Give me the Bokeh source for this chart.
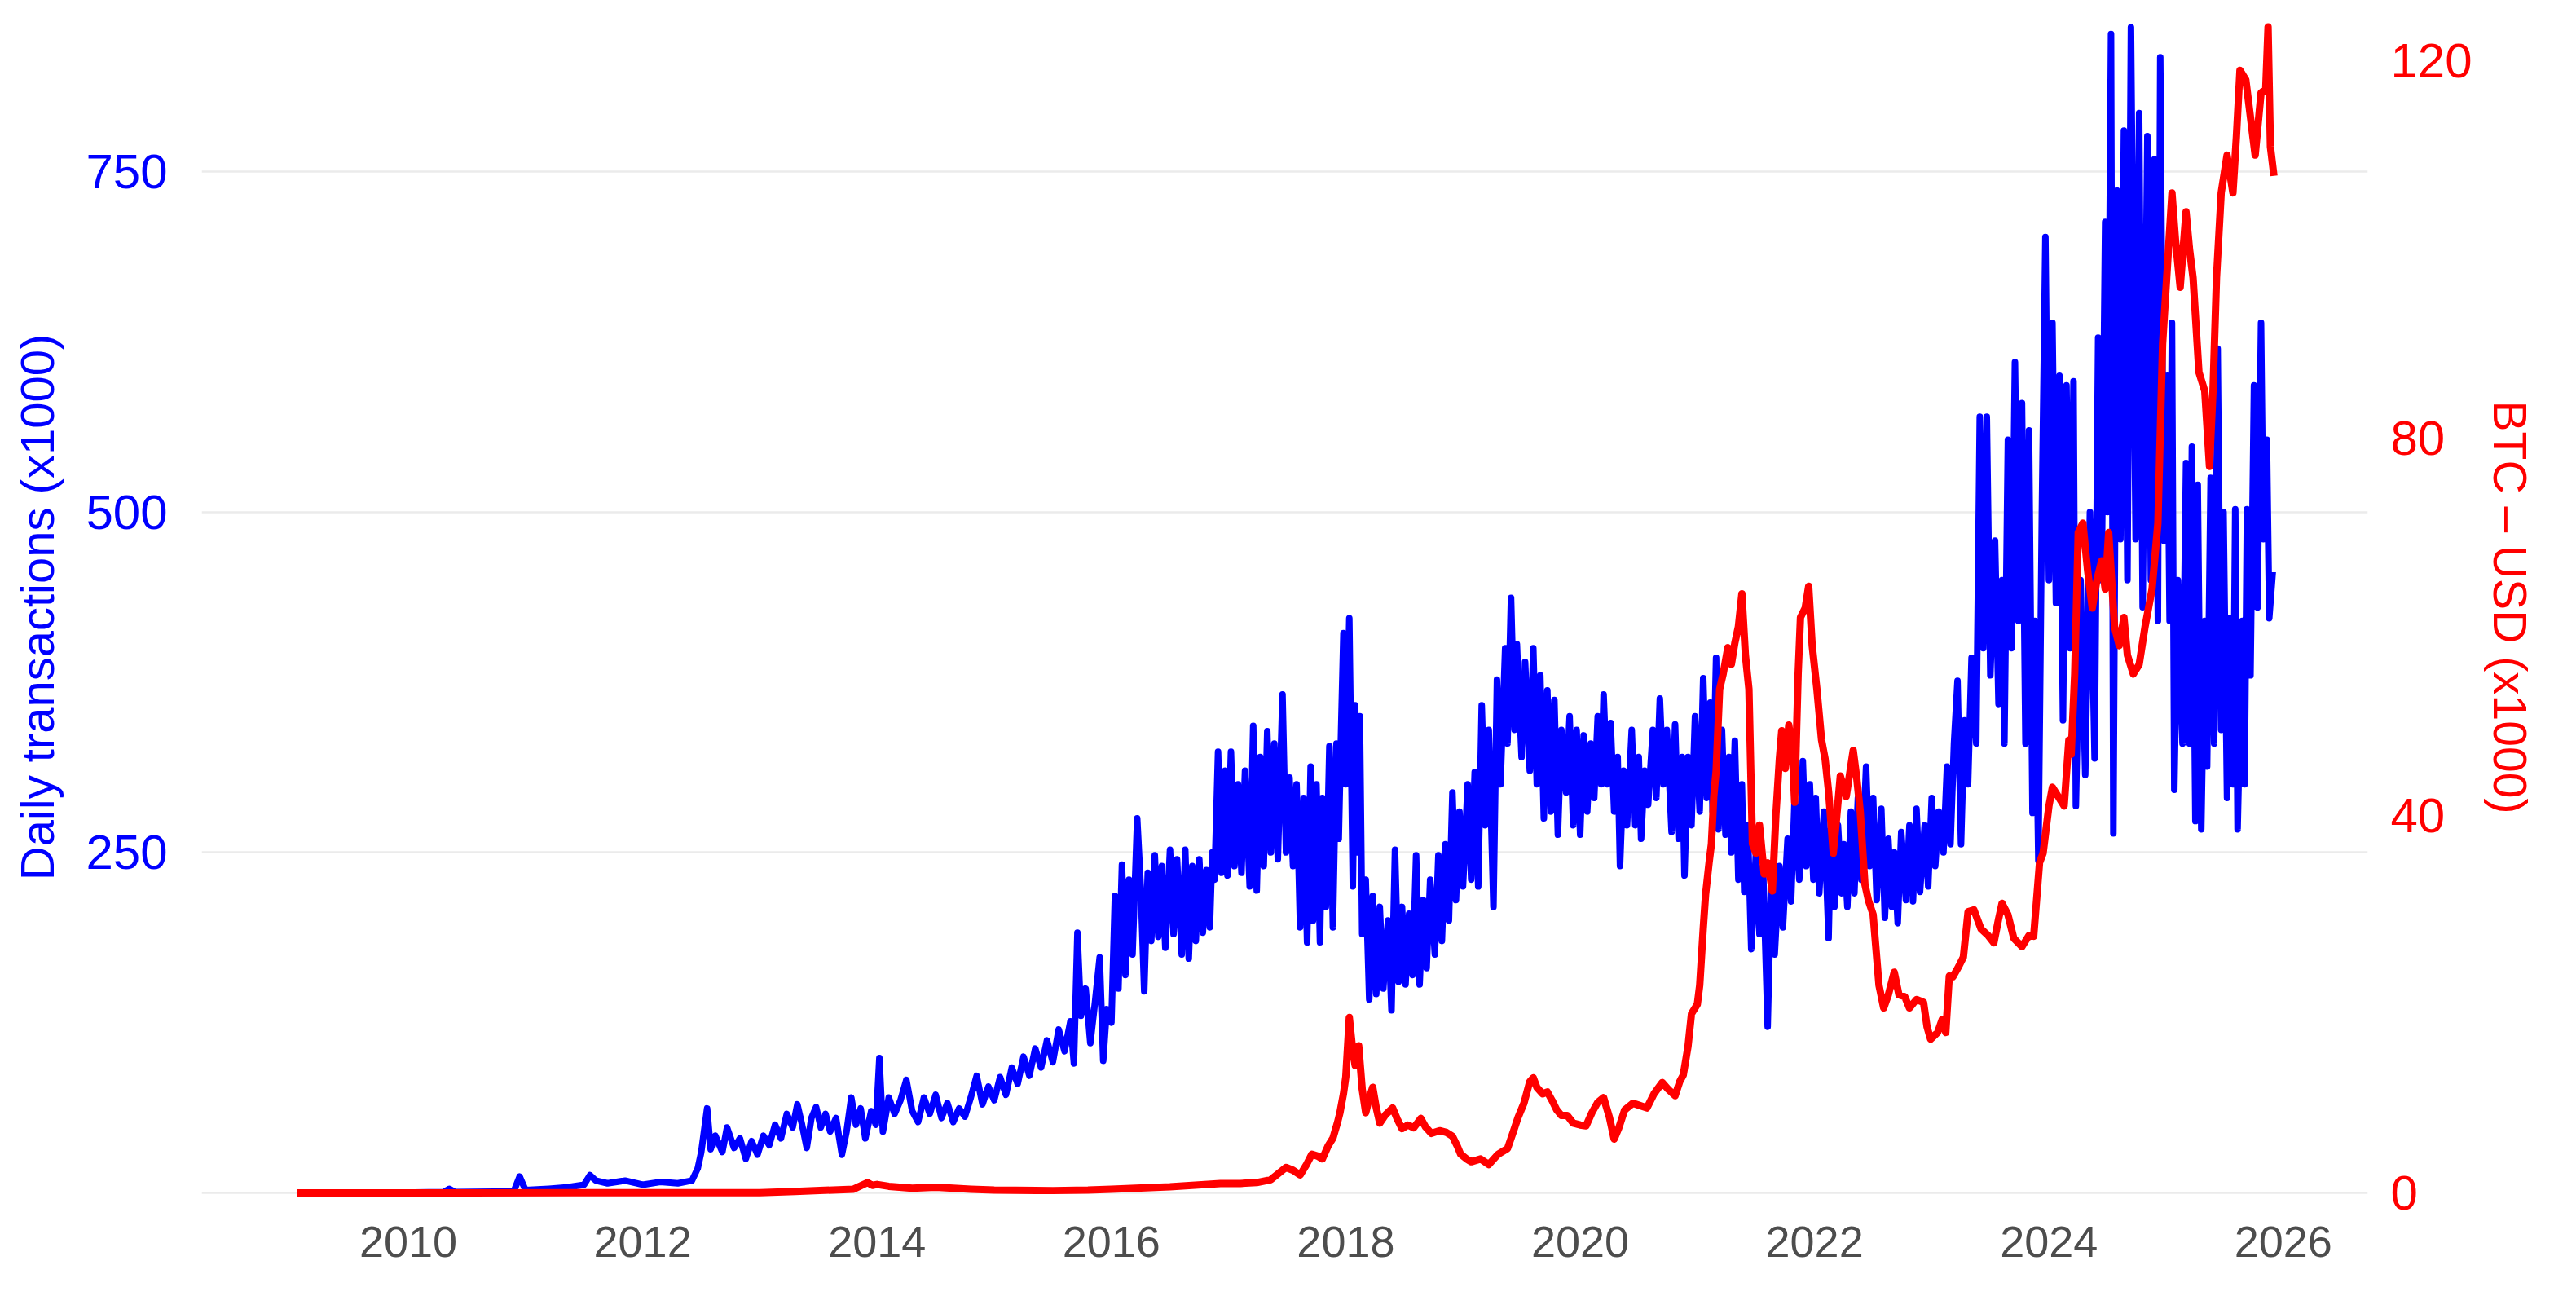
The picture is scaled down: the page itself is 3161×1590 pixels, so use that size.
from bokeh.plotting import figure
from bokeh.models import Range1d, LinearAxis, FixedTicker, PrintfTickFormatter
from bokeh.embed import file_html
from bokeh.resources import INLINE

# ---------------- data ----------------
x_ticks = [2010, 2012, 2014, 2016, 2018, 2020, 2022, 2024, 2026]
left_ticks = [0, 250, 500, 750]
right_ticks = [0, 40, 80, 120]

# Daily transactions (x1000), 2009 - 2015
blue_x_a = [2009.05, 2009.5, 2010.0, 2010.3, 2010.35, 2010.4, 2010.9, 2010.95, 2011.0, 2011.2,
            2011.35, 2011.5, 2011.55, 2011.6, 2011.7, 2011.85, 2012.0, 2012.15, 2012.3, 2012.42,
            2012.47, 2012.5, 2012.55, 2012.58, 2012.62, 2012.68, 2012.72, 2012.78, 2012.83, 2012.88,
            2012.93, 2012.98, 2013.03, 2013.08, 2013.13, 2013.18, 2013.23, 2013.28, 2013.32, 2013.36,
            2013.40, 2013.44, 2013.48, 2013.52, 2013.56, 2013.6, 2013.65, 2013.7, 2013.74, 2013.78,
            2013.82, 2013.86, 2013.9, 2013.95, 2013.99, 2014.02, 2014.05, 2014.1, 2014.15, 2014.2,
            2014.25, 2014.3, 2014.35, 2014.4, 2014.45, 2014.5, 2014.55, 2014.6, 2014.65, 2014.7,
            2014.75, 2014.8, 2014.85, 2014.9, 2014.95, 2015.0, 2015.05, 2015.1, 2015.15, 2015.2,
            2015.25, 2015.3, 2015.35, 2015.4, 2015.45, 2015.5, 2015.55, 2015.6, 2015.65, 2015.68,
            2015.71, 2015.74, 2015.78, 2015.82, 2015.86, 2015.9, 2015.93, 2015.96]
blue_y_a = [0, 0.1, 0.3, 0.5, 3, 0.5, 1, 12, 2, 3,
            4, 6, 13, 9, 7, 9, 6, 8, 7, 9,
            18, 30, 62, 32, 42, 30, 48, 33, 40, 25,
            38, 28, 42, 35, 50, 40, 58, 48, 65, 50,
            33, 55, 63, 48, 58, 45, 55, 28, 45, 70,
            50, 62, 40, 60, 50, 99, 45, 70, 58, 68,
            83, 60, 52, 70, 58, 72, 55, 66, 52, 62,
            56, 70, 86, 65, 78, 68, 85, 72, 92, 80,
            100, 86, 106, 92, 112, 96, 120, 104, 126, 95,
            191, 130, 150, 110, 140, 173, 97, 135]

# Daily transactions (x1000), 2016 - 2019
blue_x_b = [2016.00, 2016.03, 2016.06, 2016.09, 2016.12, 2016.15, 2016.18, 2016.22, 2016.25, 2016.28,
            2016.31, 2016.34, 2016.37, 2016.40, 2016.43, 2016.46, 2016.50, 2016.53, 2016.56, 2016.60,
            2016.63, 2016.66, 2016.69, 2016.72, 2016.75, 2016.78, 2016.81, 2016.84, 2016.86, 2016.88,
            2016.91, 2016.94, 2016.97, 2016.99, 2017.02, 2017.05, 2017.08, 2017.11, 2017.14, 2017.18,
            2017.21, 2017.24, 2017.27, 2017.30, 2017.33, 2017.36, 2017.39, 2017.42, 2017.46, 2017.49,
            2017.52, 2017.55, 2017.58, 2017.61, 2017.64, 2017.67, 2017.70, 2017.72, 2017.75, 2017.78,
            2017.80, 2017.83, 2017.86, 2017.89, 2017.92, 2017.94, 2017.96, 2017.98, 2018.00, 2018.03,
            2018.06, 2018.08, 2018.10, 2018.12, 2018.14, 2018.17, 2018.20, 2018.23, 2018.26, 2018.29,
            2018.32, 2018.36, 2018.39, 2018.42, 2018.45, 2018.48, 2018.51, 2018.54, 2018.57, 2018.60,
            2018.63, 2018.66, 2018.69, 2018.72, 2018.76, 2018.79, 2018.82, 2018.85, 2018.88, 2018.91,
            2018.94, 2018.97, 2019.00, 2019.04, 2019.07, 2019.10, 2019.13, 2019.16, 2019.19, 2019.22,
            2019.26, 2019.29, 2019.32, 2019.36, 2019.38, 2019.41, 2019.44, 2019.46, 2019.50, 2019.53,
            2019.57, 2019.60, 2019.63, 2019.66, 2019.69, 2019.72, 2019.75, 2019.78, 2019.81, 2019.84]
blue_y_b = [125, 218, 150, 241, 160, 230, 175, 275, 225, 148,
            235, 185, 248, 188, 240, 180, 252, 190, 245, 175,
            252, 172, 240, 185, 245, 191, 237, 195, 250, 230,
            324, 235, 310, 233, 324, 240, 300, 235, 310, 225,
            343, 222, 320, 240, 339, 250, 330, 245, 366, 250,
            305, 240, 300, 195, 290, 184, 313, 200, 300, 184,
            290, 210, 328, 195, 330, 260, 340, 411, 300, 422,
            225, 358, 250, 350, 190, 230, 142, 218, 146, 210,
            150, 200, 134, 252, 155, 210, 153, 205, 160, 248,
            153, 215, 165, 230, 175, 248, 185, 256, 200, 294,
            215, 280, 225, 300, 230, 309, 225, 358, 270, 340,
            210, 377, 300, 400, 330, 437, 340, 403, 320, 390,
            310, 400, 300, 380, 275, 369, 280, 362, 263, 340]

# Daily transactions (x1000), 2020 - 2025
blue_x_c = [2019.88, 2019.91, 2019.94, 2019.97, 2020.00, 2020.03, 2020.06, 2020.09, 2020.12, 2020.15,
            2020.18, 2020.20, 2020.23, 2020.26, 2020.29, 2020.32, 2020.34, 2020.37, 2020.40, 2020.44,
            2020.47, 2020.50, 2020.52, 2020.55, 2020.58, 2020.62, 2020.65, 2020.68, 2020.71, 2020.74,
            2020.78, 2020.81, 2020.84, 2020.87, 2020.89, 2020.92, 2020.95, 2020.98, 2021.02, 2021.05,
            2021.08, 2021.11, 2021.13, 2021.16, 2021.18, 2021.21, 2021.24, 2021.27, 2021.29, 2021.32,
            2021.35, 2021.38, 2021.40, 2021.43, 2021.46, 2021.50, 2021.53, 2021.56, 2021.60, 2021.63,
            2021.66, 2021.70, 2021.73, 2021.77, 2021.80, 2021.83, 2021.87, 2021.90, 2021.93, 2021.96,
            2021.99, 2022.01, 2022.04, 2022.08, 2022.12, 2022.14, 2022.17, 2022.20, 2022.23, 2022.25,
            2022.28, 2022.31, 2022.34, 2022.37, 2022.40, 2022.44, 2022.47, 2022.50, 2022.53, 2022.57,
            2022.60, 2022.63, 2022.66, 2022.68, 2022.71, 2022.74, 2022.78, 2022.81, 2022.84, 2022.87,
            2022.90, 2022.94, 2022.97, 2023.00, 2023.03, 2023.06, 2023.10, 2023.13, 2023.16, 2023.19,
            2023.22, 2023.25, 2023.28, 2023.31, 2023.34, 2023.38, 2023.41, 2023.44, 2023.47, 2023.50,
            2023.54, 2023.57, 2023.60, 2023.62, 2023.65, 2023.68, 2023.71, 2023.74, 2023.77, 2023.80,
            2023.83, 2023.86, 2023.88, 2023.91, 2023.94, 2023.97, 2024.00, 2024.03, 2024.06, 2024.09,
            2024.12, 2024.15, 2024.18, 2024.21, 2024.23, 2024.27, 2024.31, 2024.35, 2024.39, 2024.42,
            2024.45, 2024.48, 2024.50, 2024.53, 2024.55, 2024.58, 2024.61, 2024.64, 2024.67, 2024.70,
            2024.74, 2024.77, 2024.80, 2024.84, 2024.87, 2024.90, 2024.93, 2024.95, 2024.98, 2025.01,
            2025.03, 2025.05, 2025.07, 2025.10, 2025.14, 2025.17, 2025.20, 2025.22, 2025.25, 2025.27,
            2025.30, 2025.33, 2025.35, 2025.38, 2025.41, 2025.44, 2025.47, 2025.49, 2025.52, 2025.54,
            2025.57, 2025.59, 2025.61, 2025.65, 2025.67, 2025.69, 2025.72, 2025.75, 2025.78, 2025.81,
            2025.83, 2025.86, 2025.88, 2025.91]
blue_y_c = [294, 350, 270, 340, 263, 336, 280, 330, 290, 350,
            300, 366, 300, 345, 280, 320, 240, 310, 270, 340,
            270, 320, 260, 310, 285, 340, 290, 363, 300, 340,
            265, 344, 260, 320, 233, 320, 270, 350, 280, 378,
            290, 360, 280, 393, 267, 340, 263, 320, 250, 332,
            230, 300, 221, 270, 179, 250, 190, 240, 122, 230,
            175, 240, 195, 260, 214, 290, 230, 317, 240, 300,
            230, 290, 220, 280, 187, 267, 210, 270, 220, 256,
            210, 280, 220, 290, 230, 313, 240, 290, 215, 282,
            202, 260, 210, 250, 198, 265, 215, 270, 214, 282,
            221, 270, 225, 290, 240, 280, 250, 313, 256, 330,
            376, 256, 347, 300, 393, 330, 570, 400, 570, 380,
            479, 359, 450, 330, 553, 400, 610, 420, 580, 330,
            560, 279, 420, 244, 500, 702, 450, 639, 433, 600,
            347, 593, 400, 596, 284, 450, 307, 500, 319, 628,
            450, 713, 500, 851, 264, 736, 480, 780, 450, 856,
            480, 793, 430, 776, 450, 759, 420, 834, 479, 600,
            420, 639, 296, 450, 330, 536, 330, 548, 273, 520,
            267, 420, 313, 525, 330, 620, 340, 500, 290, 422,
            300, 502, 267, 420, 300, 502, 380, 593, 430, 639,
            480, 553, 422, 456]

# BTC - USD (x1000), 2009 - 2019
red_x_a = [2009.05, 2010.5, 2011.4, 2011.45, 2013.0, 2013.3, 2013.8, 2013.92, 2013.96, 2014.0,
           2014.1, 2014.3, 2014.5, 2014.8, 2015.0, 2015.5, 2015.8, 2016.0, 2016.5, 2016.93,
           2017.1, 2017.24, 2017.36, 2017.44, 2017.49, 2017.55, 2017.61, 2017.66, 2017.71, 2017.76,
           2017.8, 2017.85, 2017.89, 2017.93, 2017.95, 2017.98, 2018.0, 2018.03, 2018.06, 2018.08,
           2018.11, 2018.14, 2018.17, 2018.2, 2018.23, 2018.26, 2018.29, 2018.34, 2018.4, 2018.44,
           2018.48, 2018.53, 2018.58, 2018.64, 2018.68, 2018.73, 2018.8, 2018.86, 2018.91, 2018.95,
           2018.98, 2019.03, 2019.07, 2019.15, 2019.22, 2019.3, 2019.38, 2019.43, 2019.47, 2019.52,
           2019.57, 2019.6, 2019.63, 2019.68, 2019.72, 2019.76, 2019.8, 2019.84, 2019.89, 2019.94]
red_y_a = [0, 0, 0.02, 0.03, 0.02, 0.15, 0.4, 1.1, 0.8, 0.9,
           0.7, 0.5, 0.6, 0.4, 0.3, 0.25, 0.3, 0.4, 0.65, 1.0,
           1.0, 1.1, 1.4, 2.2, 2.7, 2.4, 1.9, 2.9, 4.1, 3.9,
           3.6, 5.0, 5.8, 7.5, 8.5, 10.5, 12.3, 18.6, 15, 13.5,
           15.6, 11, 8.5, 10, 11.2, 9, 7.4, 8.3, 9, 7.8,
           6.8, 7.2, 6.9, 7.9, 7, 6.3, 6.6, 6.4, 6.0, 5.0,
           4.1, 3.6, 3.3, 3.6, 3.0, 4.1, 4.7, 6.5, 8.0, 9.5,
           11.8, 12.2, 11.2, 10.5, 10.7, 9.8, 8.8, 8.2, 8.2, 7.4]

# BTC - USD (x1000), 2020 - 2025
red_x_b = [2020.0, 2020.05, 2020.1, 2020.15, 2020.2, 2020.25, 2020.29, 2020.33, 2020.38, 2020.45,
           2020.5, 2020.57, 2020.63, 2020.7, 2020.75, 2020.81, 2020.85, 2020.88, 2020.92, 2020.95,
           2021.0, 2021.02, 2021.05, 2021.07, 2021.1, 2021.12, 2021.14, 2021.16, 2021.19, 2021.22,
           2021.26, 2021.29, 2021.32, 2021.35, 2021.38, 2021.41, 2021.44, 2021.47, 2021.5, 2021.53,
           2021.57, 2021.6, 2021.64, 2021.67, 2021.7, 2021.72, 2021.75, 2021.78, 2021.81, 2021.83,
           2021.86, 2021.88, 2021.92, 2021.95, 2021.98, 2022.02, 2022.06, 2022.09, 2022.12, 2022.16,
           2022.19, 2022.22, 2022.27, 2022.33, 2022.36, 2022.39, 2022.43, 2022.46, 2022.5, 2022.55,
           2022.59, 2022.63, 2022.68, 2022.72, 2022.77, 2022.81, 2022.87, 2022.93, 2022.96, 2022.99,
           2023.05, 2023.09, 2023.12, 2023.15, 2023.18, 2023.23, 2023.27, 2023.31, 2023.36, 2023.42,
           2023.48, 2023.53, 2023.57, 2023.6, 2023.65, 2023.7, 2023.77, 2023.83, 2023.87, 2023.92,
           2023.95, 2024.0, 2024.03, 2024.08, 2024.13, 2024.17, 2024.19, 2024.22, 2024.25, 2024.29,
           2024.33, 2024.37, 2024.41, 2024.45, 2024.48, 2024.51, 2024.56, 2024.6, 2024.64, 2024.67,
           2024.72, 2024.77, 2024.82, 2024.88, 2024.93, 2024.97, 2025.01, 2025.05, 2025.08, 2025.12,
           2025.17, 2025.2, 2025.23, 2025.28, 2025.33, 2025.37, 2025.4, 2025.43, 2025.47, 2025.52,
           2025.57, 2025.6, 2025.63, 2025.68, 2025.72, 2025.76, 2025.81, 2025.85, 2025.87, 2025.89,
           2025.92]
red_y_b = [7.2, 7.1, 8.5, 9.6, 10.1, 8.0, 5.7, 6.9, 8.8, 9.5,
           9.3, 9.0, 10.5, 11.7, 11.0, 10.3, 11.8, 12.5, 15.5, 19,
           20, 22, 28, 31.6, 35, 37, 42, 44.7, 53.4, 55,
           57.8, 56, 58.3, 60, 63.5, 57, 53.4, 37, 36, 39,
           33.8, 35, 32, 40, 46, 49, 45, 49.6, 47, 41.4,
           55, 61, 62, 64.3, 58, 53.4, 48, 46, 42.5, 36,
           40, 44.2, 42, 46.9, 44, 40.4, 32.7, 31, 29.5, 22,
           19.6, 21, 23.4, 21, 20.8, 19.6, 20.5, 20.2, 17.6, 16.3,
           17, 18.4, 17, 23, 22.9, 24, 25, 29.8, 30, 28,
           27.3, 26.5, 29, 30.7, 29.5, 27, 26.1, 27.3, 27.2, 35,
           36, 41, 43, 42, 41, 48, 46.5, 55, 70, 71,
           66, 62, 65, 67, 64, 70, 60, 58, 61, 57,
           55, 56, 60, 64, 71, 90, 98, 106, 101, 96,
           104, 100, 97, 87, 85, 77, 85, 97, 106, 110,
           106, 112, 119, 118, 114, 110, 116.6, 117, 123.6, 110.9,
           107.8]

blue_x = blue_x_a + blue_x_b + blue_x_c
blue_y = blue_y_a + blue_y_b + blue_y_c
red_x = red_x_a + red_x_b
red_y = red_y_a + red_y_b
assert len(blue_x) == len(blue_y) and len(red_x) == len(red_y)

BLUE = "#0000FF"
RED = "#FF0000"
FONT = "Liberation Sans"

p = figure(width=3140, height=1570, output_backend="svg", toolbar_location=None,
           x_range=Range1d(2008.237, 2026.721), y_range=Range1d(-11.4, 871.5),
           min_border_left=247, min_border_right=235, min_border_top=7, min_border_bottom=88)
p.extra_y_ranges = {"btc": Range1d(-1.64, 125.8)}

p.outline_line_color = None
p.background_fill_color = "white"
p.border_fill_color = "white"

# x axis
xa = p.xaxis[0]
xa.ticker = FixedTicker(ticks=x_ticks)
xa.formatter = PrintfTickFormatter(format="%d")
xa.axis_line_color = None
xa.major_tick_line_color = None
xa.minor_tick_line_color = None
xa.major_tick_out = 0
xa.major_tick_in = 0
xa.major_label_standoff = 22
xa.major_label_text_font = FONT
xa.major_label_text_font_size = "54px"
xa.major_label_text_color = "#4D4D4D"

# left axis
ya = p.yaxis[0]
ya.ticker = FixedTicker(ticks=left_ticks)
ya.major_label_overrides = {0: ""}
ya.axis_line_color = None
ya.major_tick_line_color = None
ya.minor_tick_line_color = None
ya.major_tick_out = 0
ya.major_tick_in = 0
ya.major_label_standoff = 42
ya.major_label_text_font = FONT
ya.major_label_text_font_size = "60px"
ya.major_label_text_color = BLUE
ya.axis_label = "Daily transactions (x1000)"
ya.axis_label_text_font = FONT
ya.axis_label_text_font_size = "58px"
ya.axis_label_text_font_style = "normal"
ya.axis_label_text_color = BLUE
ya.axis_label_standoff = 24

# grid
p.xgrid.grid_line_color = None
p.ygrid.ticker = FixedTicker(ticks=left_ticks)
p.ygrid.grid_line_color = "#EBEBEB"
p.ygrid.grid_line_width = 2.5

# right axis
ra = LinearAxis(y_range_name="btc", ticker=FixedTicker(ticks=right_ticks))
ra.axis_line_color = None
ra.major_tick_line_color = None
ra.minor_tick_line_color = None
ra.major_tick_out = 0
ra.major_tick_in = 0
ra.major_label_standoff = 28
ra.major_label_text_font = FONT
ra.major_label_text_font_size = "60px"
ra.major_label_text_color = RED
ra.axis_label = "BTC \u2013 USD (x1000)"
ra.axis_label_text_font = FONT
ra.axis_label_text_font_size = "57px"
ra.axis_label_text_font_style = "normal"
ra.axis_label_text_color = RED
ra.axis_label_standoff = 11
p.add_layout(ra, "right")

p.line(blue_x, blue_y, line_color=BLUE, line_width=8, line_join="round")
p.line(red_x, red_y, line_color=RED, line_width=9, line_join="round", y_range_name="btc")

open("out.html", "w").write(file_html(p, INLINE))
